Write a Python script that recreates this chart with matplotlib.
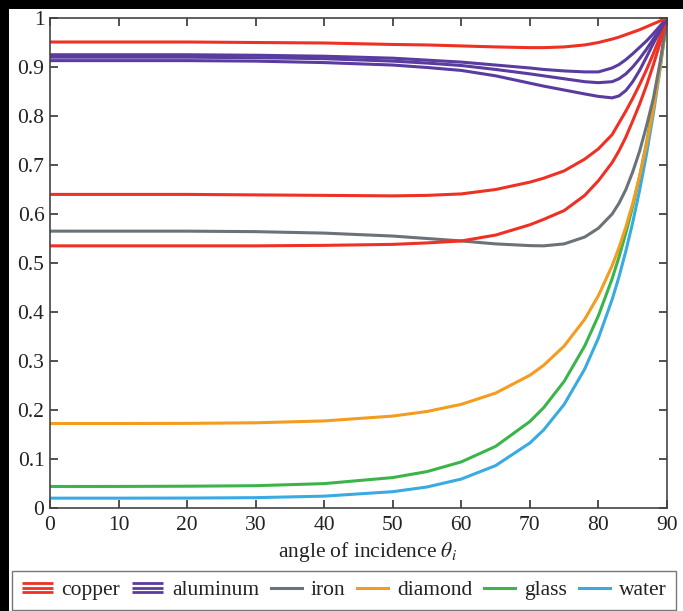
import matplotlib
matplotlib.use('Agg')
import matplotlib.pyplot as plt
from matplotlib.legend_handler import HandlerBase
from matplotlib.lines import Line2D
from matplotlib.patches import Rectangle
from matplotlib import font_manager

_avail = {f.name for f in font_manager.fontManager.ttflist}
_serif = [f for f in ['Liberation Serif', 'Times New Roman', 'STIXGeneral', 'DejaVu Serif'] if f in _avail]
plt.rcParams['font.family'] = 'serif'
plt.rcParams['font.serif'] = _serif
plt.rcParams['mathtext.fontset'] = 'stix'

# ---------------- data ----------------
angles = [0, 10, 20, 30, 40, 50, 55, 60, 65, 70, 72, 75, 78, 80, 82, 83, 84, 85, 86, 87, 88, 89, 90]

copper_1 = [.951, .951, .951, .950, .949, .946, .945, .943, .941, .9395, .9395, .941, .945, .950,
            .957, .961, .966, .971, .976, .982, .988, .994, 1.0]
copper_2 = [.640, .640, .640, .639, .638, .637, .638, .641, .650, .665, .673, .688, .712, .733,
            .762, .786, .810, .836, .864, .894, .927, .962, 1.0]
copper_3 = [.535, .535, .535, .535, .536, .538, .541, .545, .557, .578, .589, .607, .638, .668,
            .705, .729, .757, .790, .824, .862, .904, .950, 1.0]
aluminum_1 = [.925, .925, .925, .924, .922, .918, .914, .910, .904, .898, .895, .892, .890, .890,
              .898, .905, .915, .927, .940, .953, .968, .984, 1.0]
aluminum_2 = [.920, .920, .920, .919, .917, .912, .908, .903, .895, .886, .882, .876, .870, .868,
              .870, .876, .886, .900, .917, .936, .957, .978, 1.0]
aluminum_3 = [.913, .913, .913, .912, .909, .904, .899, .893, .882, .867, .861, .853, .845, .840,
              .837, .841, .852, .870, .893, .920, .948, .974, 1.0]
iron = [.565, .565, .565, .564, .561, .555, .550, .545, .539, .5355, .535, .539, .553, .571,
        .600, .622, .650, .686, .728, .779, .835, .910, 1.0]
diamond = [.1724, .1724, .1727, .1739, .1777, .1876, .197, .2116, .2345, .2709, .2911, .3306, .3852,
           .4335, .4946, .5315, .5736, .6215, .6766, .7405, .8139, .900, 1.0]
glass = [.0439, .0440, .0445, .0455, .0498, .0621, .0743, .0941, .1258, .1765, .2046, .2585, .3308,
         .3926, .468, .5123, .5615, .6158, .6765, .7447, .8201, .905, 1.0]
water = [.0201, .0201, .0203, .0211, .0242, .0333, .0429, .0591, .0865, .1327, .1592, .2114, .2837,
         .347, .4257, .472, .5245, .583, .648, .721, .804, .896, 1.0]

legend_labels = ['copper', 'aluminum', 'iron', 'diamond', 'glass', 'water']
x_ticks = [0, 10, 20, 30, 40, 50, 60, 70, 80, 90]
y_ticks = [0, 0.1, 0.2, 0.3, 0.4, 0.5, 0.6, 0.7, 0.8, 0.9, 1.0]
y_tick_labels = ['0', '0.1', '0.2', '0.3', '0.4', '0.5', '0.6', '0.7', '0.8', '0.9', '1']

# ---------------- styles ----------------
C_CU = '#ee3124'
C_AL = '#5a3b9f'
C_FE = '#6b7278'
C_DI = '#f39c1f'
C_GL = '#3bb54a'
C_WA = '#3aaae2'
LW = 2.2

W, H = 683, 611
fig = plt.figure(figsize=(W / 100, H / 100), dpi=100)
ax = fig.add_axes([50 / W, 1 - 508 / H, (667 - 50) / W, (508 - 18) / H])

ax.plot(angles, water, color=C_WA, lw=LW)
ax.plot(angles, glass, color=C_GL, lw=LW)
ax.plot(angles, diamond, color=C_DI, lw=LW)
ax.plot(angles, iron, color=C_FE, lw=LW)
for s in (copper_2, copper_3):
    ax.plot(angles, s, color=C_CU, lw=LW)
for s in (aluminum_1, aluminum_2, aluminum_3):
    ax.plot(angles, s, color=C_AL, lw=LW)
ax.plot(angles, copper_1, color=C_CU, lw=LW)

ax.set_xlim(0, 90)
ax.set_ylim(0, 1)
ax.set_xticks(x_ticks)
ax.set_xticklabels([str(t) for t in x_ticks])
ax.set_yticks(y_ticks)
ax.set_yticklabels(y_tick_labels)
ax.tick_params(direction='in', top=True, right=True, length=6, width=1.2,
               color='#333333', labelsize=15.5, labelcolor='#222222')
ax.tick_params(axis='y', pad=4)
ax.tick_params(axis='x', pad=6)
for sp in ax.spines.values():
    sp.set_color('#444444')
    sp.set_linewidth(1.2)
ax.set_xlabel(r'angle of incidence $\theta_i$', fontsize=15.5, color='#222222', labelpad=3)
ax.xaxis.label.set_x(0.515)


class TripleLine(HandlerBase):
    def create_artists(self, legend, orig_handle, xdescent, ydescent, width, height,
                       fontsize, trans):
        arts = []
        yc = height / 2 - ydescent
        gap = 0.29 * height
        for k in (-1, 0, 1):
            l = Line2D([-xdescent, width - xdescent], [yc + k * gap] * 2,
                       color=orig_handle.get_color(), lw=orig_handle.get_linewidth(),
                       solid_capstyle='butt', transform=trans)
            arts.append(l)
        return arts


h_cu = Line2D([], [], color=C_CU, lw=2.0)
h_al = Line2D([], [], color=C_AL, lw=2.0)
h_fe = Line2D([], [], color=C_FE, lw=LW)
h_di = Line2D([], [], color=C_DI, lw=LW)
h_gl = Line2D([], [], color=C_GL, lw=LW)
h_wa = Line2D([], [], color=C_WA, lw=LW)

leg = fig.legend([h_cu, h_al, h_fe, h_di, h_gl, h_wa], legend_labels,
                 loc='lower left', bbox_to_anchor=(12 / W, 1 / H, 664 / W, 40 / H),
                 bbox_transform=fig.transFigure, mode='expand', ncol=6,
                 frameon=True, fancybox=False, edgecolor='#777777', framealpha=1,
                 borderaxespad=0, handlelength=1.45, handletextpad=0.4,
                 fontsize=15.5, borderpad=0.45,
                 handler_map={h_cu: TripleLine(), h_al: TripleLine()})
leg.get_frame().set_linewidth(1.0)
for t in leg.get_texts():
    t.set_color('#222222')

# black border strips at top and left of the reference image
fig.patches.append(Rectangle((0, 1 - 9 / H), 1, 9 / H, transform=fig.transFigure,
                             facecolor='black', edgecolor='none', zorder=10))
fig.patches.append(Rectangle((0, 0), 9 / W, 1, transform=fig.transFigure,
                             facecolor='black', edgecolor='none', zorder=10))

fig.savefig('out.png', dpi=100)
